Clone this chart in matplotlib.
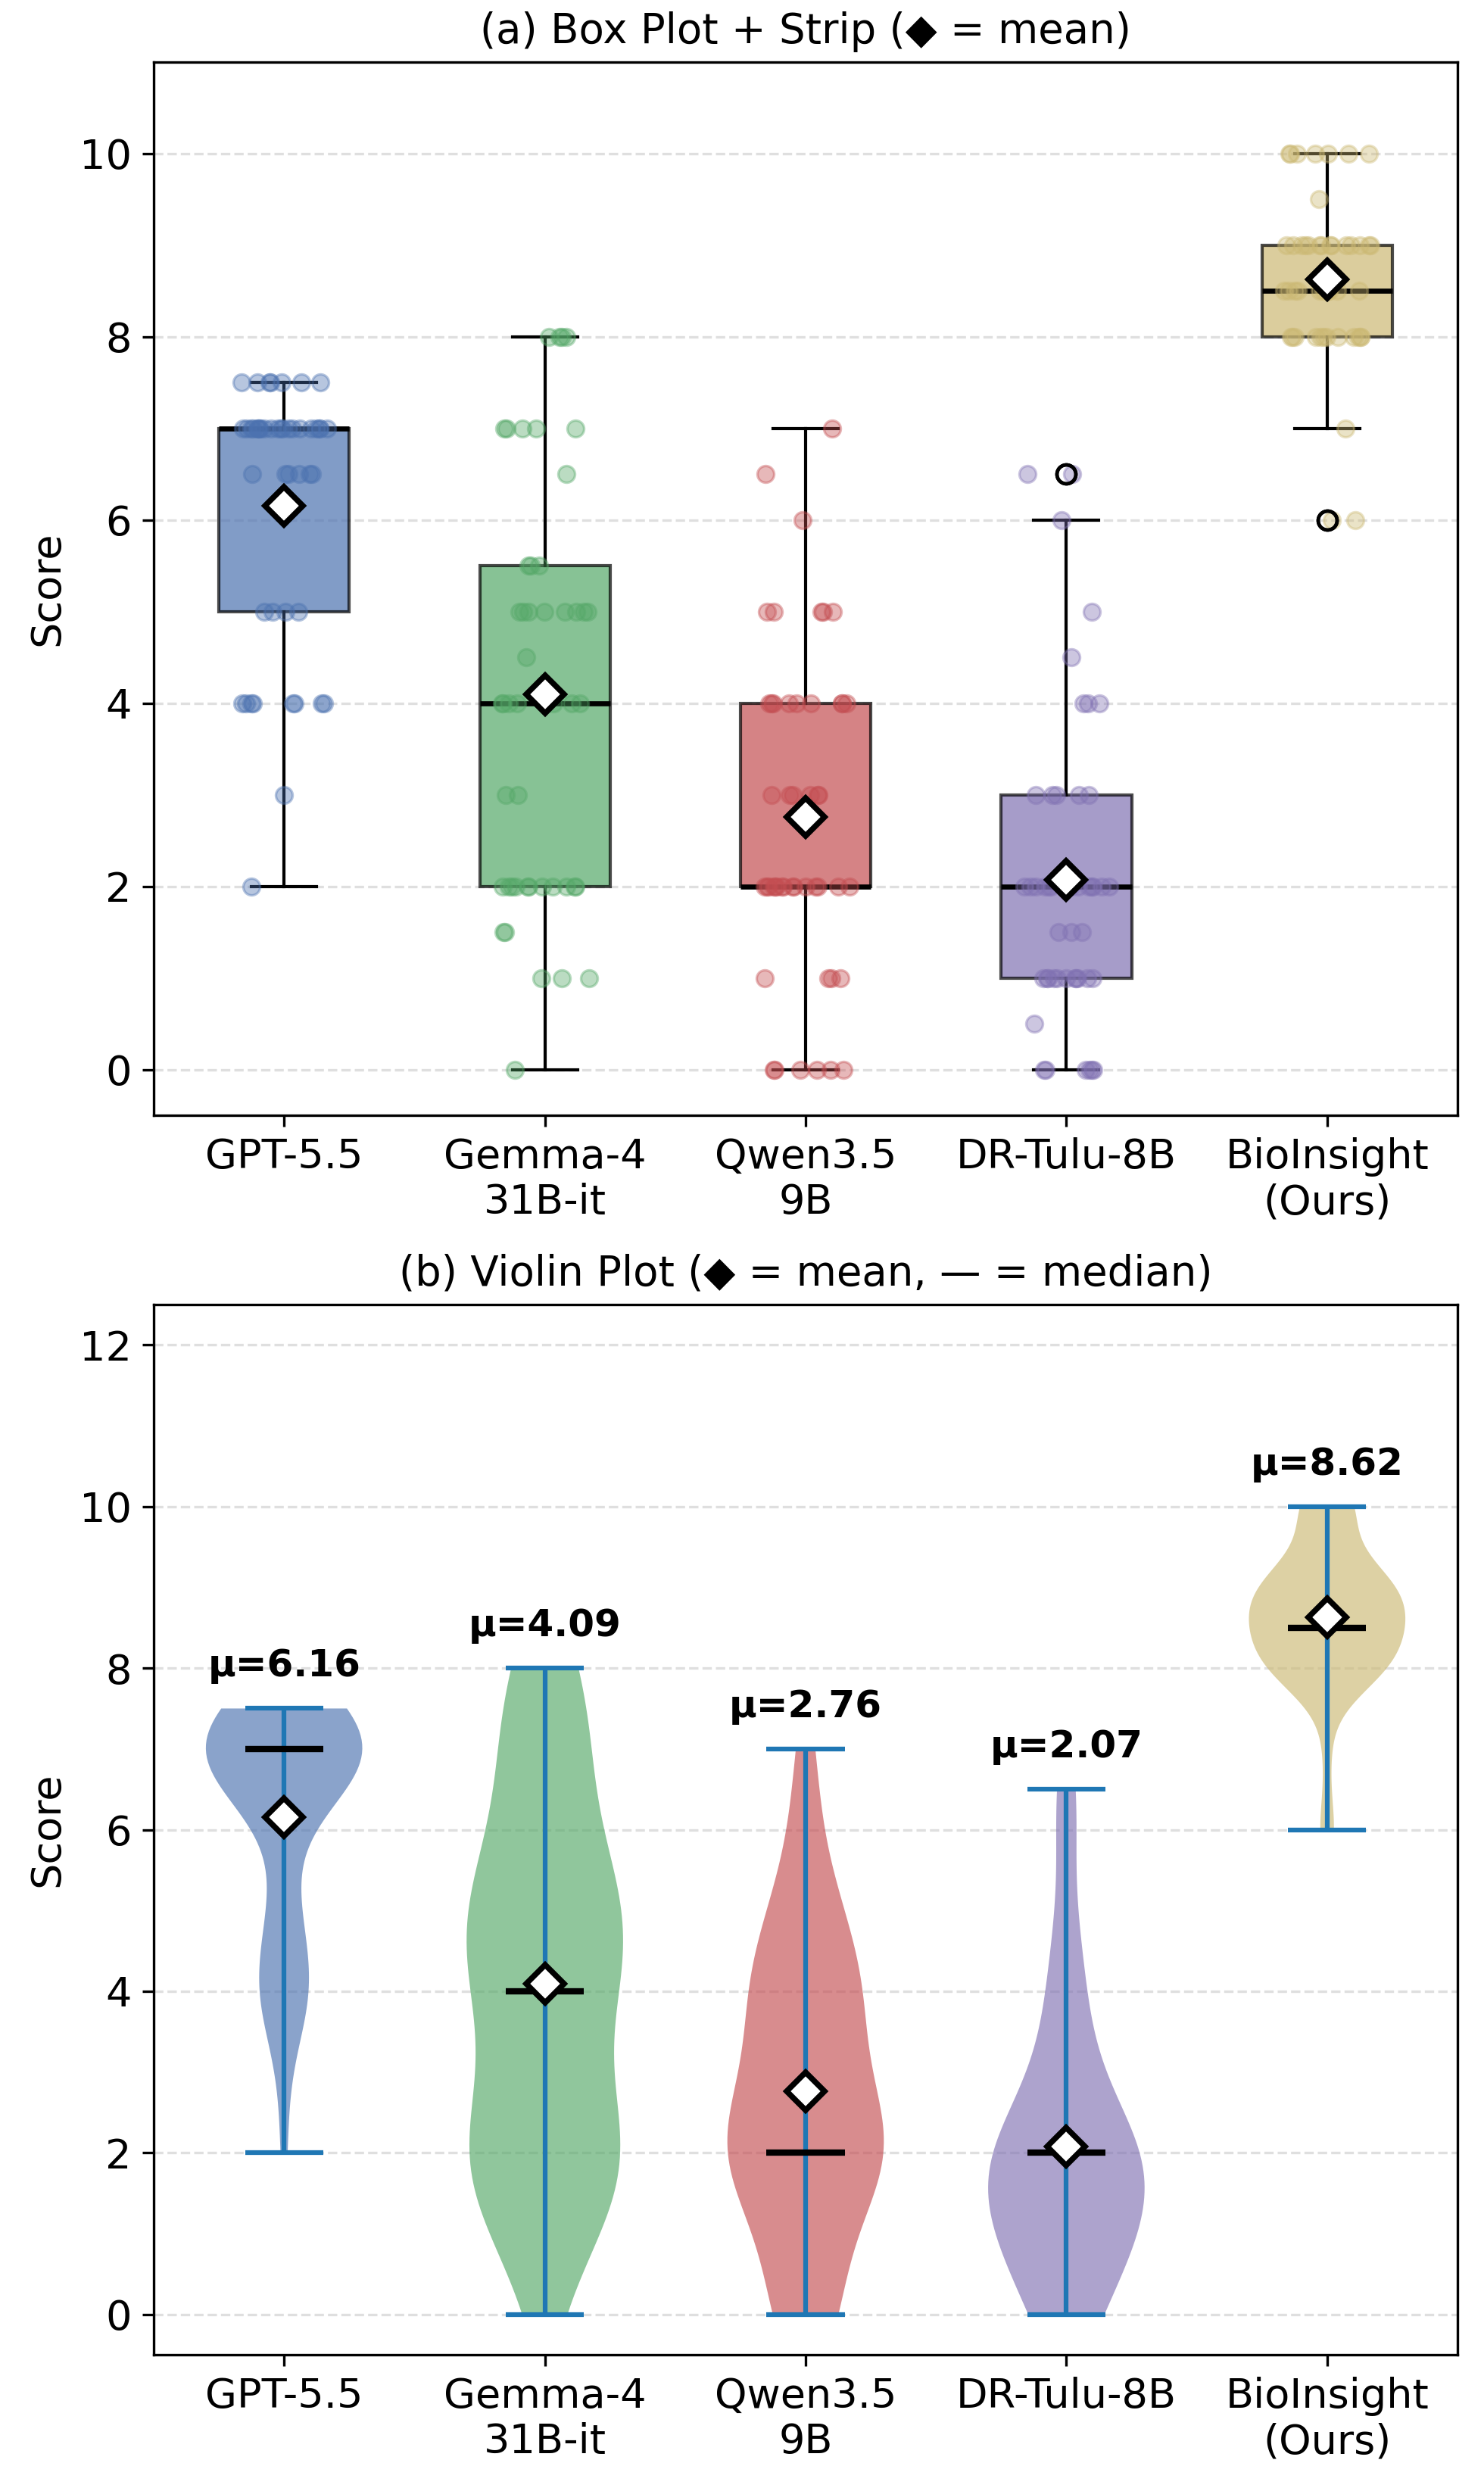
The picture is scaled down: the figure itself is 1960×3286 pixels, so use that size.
import numpy as np
import matplotlib
matplotlib.use("Agg")
import matplotlib.pyplot as plt

plt.rcParams["font.family"] = ["DejaVu Sans"]

# ---------------- data ----------------
models = ["GPT-5.5", "Gemma-4\n31B-it", "Qwen3.5\n9B", "DR-Tulu-8B", "BioInsight\n(Ours)"]
colors = ["#4C72B0", "#55A868", "#C44E52", "#8172B3", "#CCB974"]

gpt_scores = [2, 3, 4, 4, 4, 4, 4, 4, 4, 4, 5, 5, 5, 5,
              6.5, 6.5, 6.5, 6.5, 6.5, 6.5,
              7, 7, 7, 7, 7, 7, 7, 7, 7, 7, 7, 7, 7, 7, 7, 7, 7, 7, 7, 7, 7,
              7.5, 7.5, 7.5, 7.5, 7.5, 7.5, 7.5]
gemma_scores = [0, 1, 1, 1, 1.5, 1.5,
                2, 2, 2, 2, 2, 2, 2, 2, 2, 2, 2,
                3, 3, 4, 4, 4, 4, 4, 4, 4, 4.5,
                5, 5, 5, 5, 5, 5, 5, 5, 5.5, 5.5, 5.5, 6.5,
                7, 7, 7, 7, 7, 8, 8, 8, 8]
qwen_scores = [0, 0, 0, 0, 0, 0, 1, 1, 1, 1,
               2, 2, 2, 2, 2, 2, 2, 2, 2, 2, 2, 2, 2, 2, 2,
               3, 3, 3, 3, 3, 3,
               4, 4, 4, 4, 4, 4, 4, 4, 4,
               5, 5, 5, 5, 5, 6, 6.5, 7]
tulu_scores = [0, 0, 0, 0, 0, 0, 0.5,
               1, 1, 1, 1, 1, 1, 1, 1, 1, 1, 1, 1.5, 1.5, 1.5,
               2, 2, 2, 2, 2, 2, 2, 2, 2, 2, 2, 2, 2, 2,
               3, 3, 3, 3, 3, 4, 4, 4, 4.5, 5, 6, 6.5, 6.5]
bio_scores = [6, 6, 7,
              8, 8, 8, 8, 8, 8, 8, 8, 8, 8, 8, 8,
              8.5, 8.5, 8.5, 8.5, 8.5, 8.5, 8.5, 8.5, 8.5, 8.5, 8.5,
              9, 9, 9, 9, 9, 9, 9, 9, 9, 9, 9, 9, 9, 9,
              9.5, 10, 10, 10, 10, 10, 10, 10]

data = [np.array(d, dtype=float) for d in
        [gpt_scores, gemma_scores, qwen_scores, tulu_scores, bio_scores]]
positions = np.arange(len(models))
means = [d.mean() for d in data]

# ---------------- figure ----------------
fig = plt.figure(figsize=(1960 / 300, 3286 / 300), dpi=300)
ax1 = fig.add_axes([203 / 1960, 1 - 1473 / 3286, (1925 - 203) / 1960, (1473 - 82) / 3286])
ax2 = fig.add_axes([203 / 1960, 1 - 3110 / 3286, (1925 - 203) / 1960, (3110 - 1723) / 3286])

TICK_FS = 13
TITLE_FS = 13.1

# ---- (a) box + strip ----
bp = ax1.boxplot(
    data, positions=positions, widths=0.5, patch_artist=True, showmeans=True,
    meanprops=dict(marker="D", markerfacecolor="white", markeredgecolor="black",
                   markersize=8.5, markeredgewidth=1.8),
    medianprops=dict(color="black", linewidth=1.6),
    whiskerprops=dict(color="black", linewidth=1.0),
    capprops=dict(color="black", linewidth=1.0),
    flierprops=dict(marker="o", markerfacecolor="none", markeredgecolor="black",
                    markersize=6, markeredgewidth=1.1),
    boxprops=dict(edgecolor="black", linewidth=1.0),
)
for patch, c in zip(bp["boxes"], colors):
    patch.set_facecolor(c)
    patch.set_alpha(0.7)
for m in bp["means"]:
    m.set_zorder(5)
for f in bp["fliers"]:
    f.set_zorder(4)

rng = np.random.default_rng(11)
for i, (d, c) in enumerate(zip(data, colors)):
    jit = rng.uniform(-0.17, 0.17, size=len(d))
    ax1.scatter(positions[i] + jit, d, s=28, color=c, alpha=0.4,
                edgecolor=c, linewidth=0.8, zorder=3)

ax1.set_xlim(-0.5, 4.5)
ax1.set_ylim(-0.5, 11)
ax1.set_yticks([0, 2, 4, 6, 8, 10])
ax1.set_xticks(positions)
ax1.set_xticklabels(models, fontsize=TICK_FS)
ax1.tick_params(axis="y", labelsize=TICK_FS)
ax1.set_ylabel("Score", fontsize=TICK_FS)
ax1.set_title("(a) Box Plot + Strip (\u25c6 = mean)", fontsize=TITLE_FS)
ax1.yaxis.grid(True, linestyle="--", color="gray", alpha=0.25, linewidth=0.8)
ax1.set_axisbelow(True)

# ---- (b) violin ----
vp = ax2.violinplot(data, positions=positions, widths=0.6, showmeans=False,
                    showmedians=True, showextrema=True)
for body, c in zip(vp["bodies"], colors):
    body.set_facecolor(c)
    body.set_edgecolor("none")
    body.set_alpha(0.65)
for k in ["cbars", "cmins", "cmaxes"]:
    vp[k].set_color("#1f77b4")
    vp[k].set_linewidth(1.5)
vp["cmedians"].set_color("black")
vp["cmedians"].set_linewidth(2.0)

ax2.plot(positions, means, linestyle="none", marker="D", markerfacecolor="white",
         markeredgecolor="black", markersize=8.5, markeredgewidth=1.8, zorder=5)
for i, d in enumerate(data):
    ax2.text(positions[i], d.max() + 0.3, f"\u03bc={means[i]:.2f}", ha="center",
             va="bottom", fontsize=12, fontweight="bold")

ax2.set_xlim(-0.5, 4.5)
ax2.set_ylim(-0.5, 12.5)
ax2.set_yticks([0, 2, 4, 6, 8, 10, 12])
ax2.set_xticks(positions)
ax2.set_xticklabels(models, fontsize=TICK_FS)
ax2.tick_params(axis="y", labelsize=TICK_FS)
ax2.set_ylabel("Score", fontsize=TICK_FS)
ax2.set_title("(b) Violin Plot (\u25c6 = mean, \u2014 = median)", fontsize=TITLE_FS)
ax2.yaxis.grid(True, linestyle="--", color="gray", alpha=0.25, linewidth=0.8)
ax2.set_axisbelow(True)

fig.savefig("out.png", dpi=300)
